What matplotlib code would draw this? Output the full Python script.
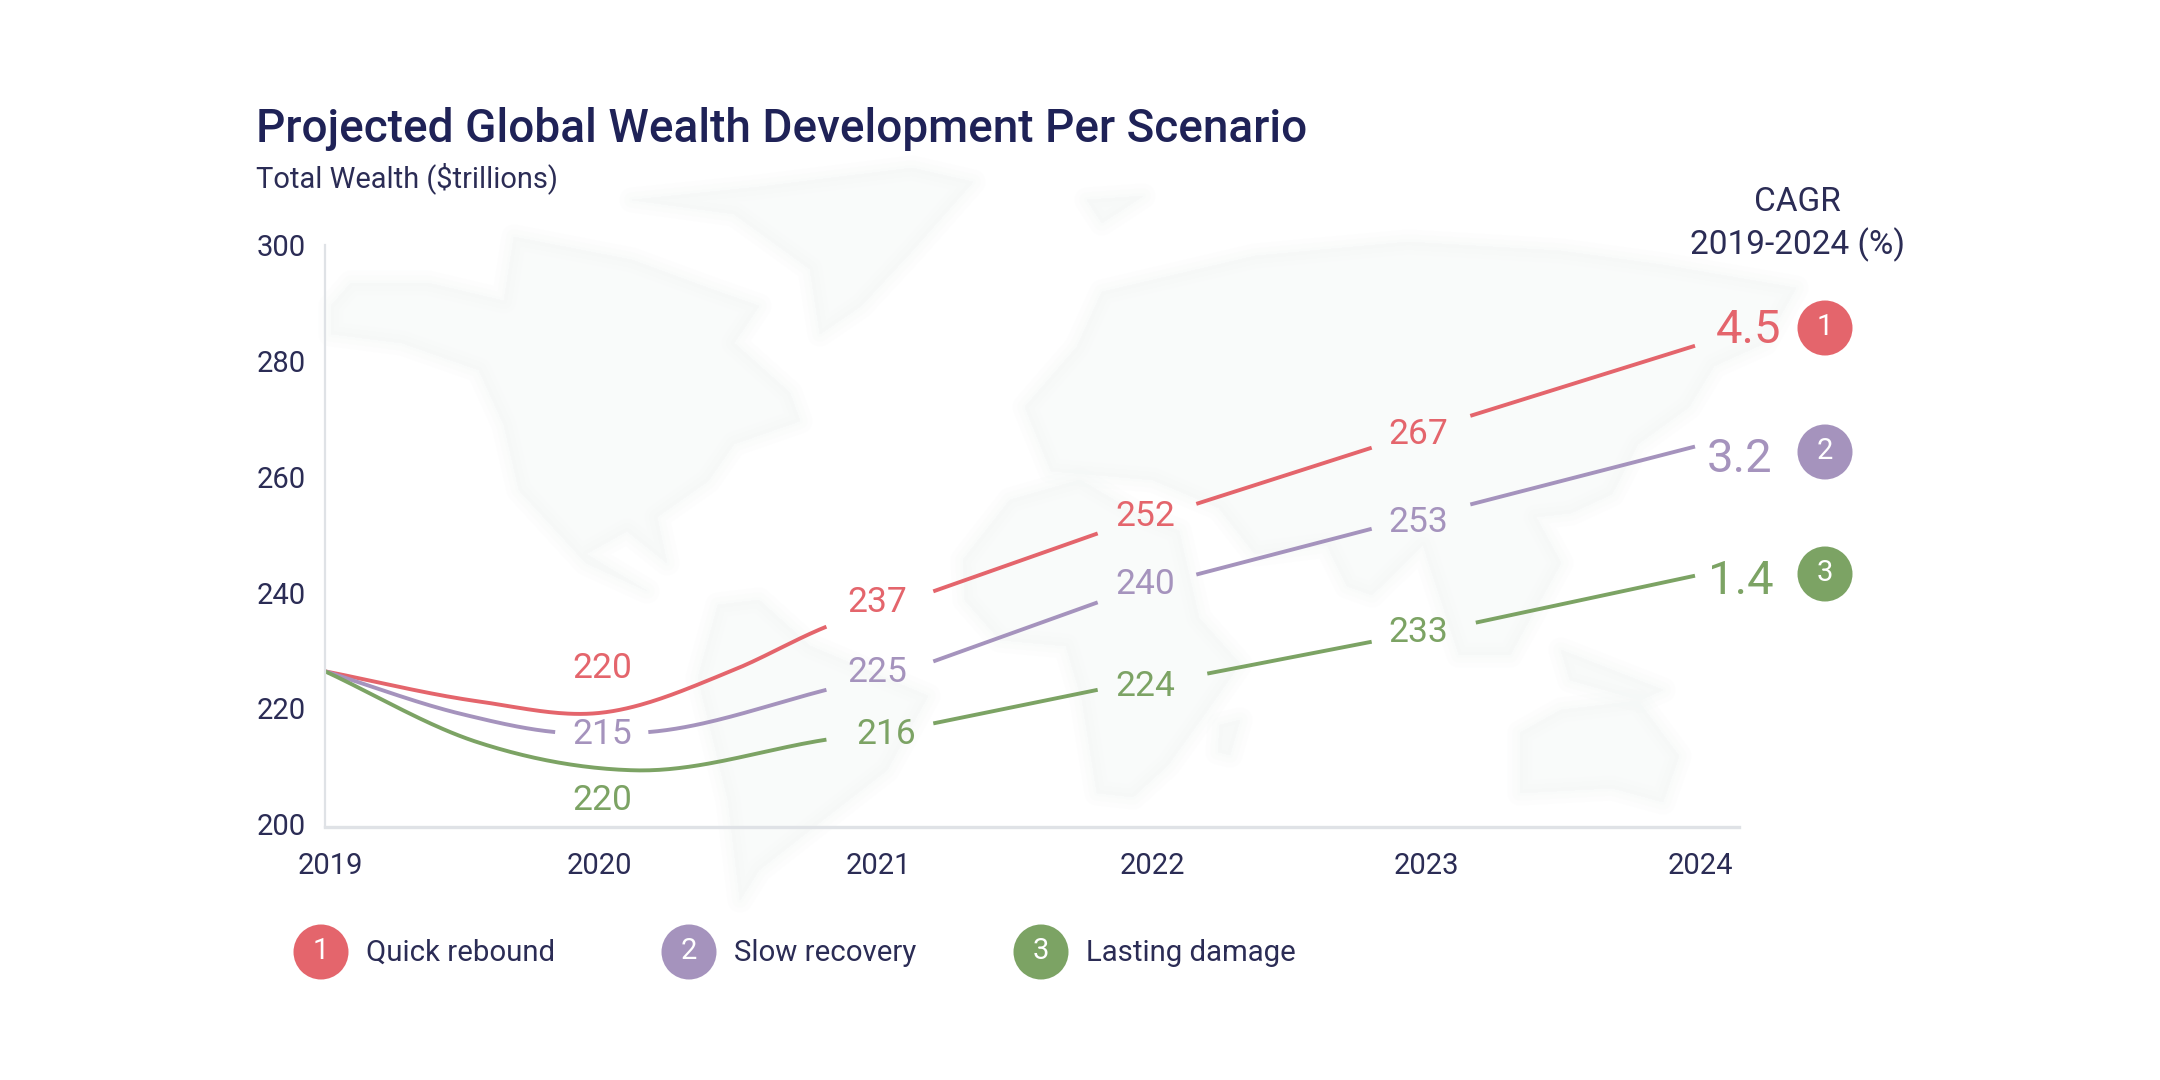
'''
projected global wealth per scenario, line chart with a faint world map behind it
'''

import numpy as np
import matplotlib.pyplot as plt
from matplotlib.patches import Circle, Polygon
from matplotlib.transforms import ScaledTranslation

plt.rcParams['font.family'] = ['Roboto', 'DejaVu Sans']

years = [2019, 2020, 2021, 2022, 2023, 2024]
y_ticks = [200, 220, 240, 260, 280, 300]

# points (x in years, y in $trillions)
red_x = [2019, 2019.56, 2020, 2020.49, 2020.83, 2021.22, 2021.82, 2022.18, 2022.82, 2023.18, 2024]
red_y = [226.4, 221.2, 219.2, 226.6, 234.1, 240.2, 250.2, 255.3, 265, 270.5, 282.6]
purple_x = [2019, 2019.5, 2019.84, 2020.18, 2020.83, 2021.22, 2021.82, 2022.18, 2022.82, 2023.18, 2024]
purple_y = [226.4, 219, 215.9, 215.9, 223.2, 228.1, 238.3, 243.1, 251, 255.2, 265.2]
green_x = [2019, 2019.56, 2020.13, 2020.83, 2021.22, 2021.82, 2022.22, 2022.82, 2023.2, 2024]
green_y = [226.4, 214.1, 209.3, 214.6, 217.4, 223.2, 226, 231.5, 234.8, 242.9]

# where each line stops for its value label
red_gaps = [(2020.83, 2021.22), (2021.82, 2022.18), (2022.82, 2023.18)]
purple_gaps = [(2019.84, 2020.18), (2020.83, 2021.22), (2021.82, 2022.18), (2022.82, 2023.18)]
green_gaps = [(2020.83, 2021.22), (2021.82, 2022.22), (2022.82, 2023.2)]

red_labels = ['220', '237', '252', '267']
purple_labels = ['215', '225', '240', '253']
green_labels = ['220', '216', '224', '233']

red_label_pos = [(602, 669), (877, 603), (1145, 516), (1418, 435)]
purple_label_pos = [(602, 734), (877, 672), (1145, 584), (1418, 523)]
green_label_pos = [(602, 800), (886, 735), (1145, 686), (1418, 633)]

scenarios = ['Quick rebound', 'Slow recovery', 'Lasting damage']
cagr = ['4.5', '3.2', '1.4']

RED = '#e4656c'
PURPLE = '#a593bd'
GREEN = '#7ca364'
NAVY = '#1f2257'
DARK = '#2b2c55'
AXIS = '#dfe2e6'
MAP = '#f5f8f7'

# rough continent outlines, figure pixels
north_america = [(331,306),(351,283),(428,283),(504,301),(514,237),(632,260),(708,288),(759,306),(734,343),(790,393),(800,421),(734,444),(708,481),(657,517),(667,563),(627,531),(586,554),(647,591),(586,563),(519,490),(504,425),(479,370),(402,343),(331,334)]
greenland = [(632,200),(759,187),(912,168),(973,182),(912,251),(861,306),(820,334),(810,269),(734,214)]
south_america = [(718,605),(759,600),(810,646),(928,696),(887,770),(810,830),(759,870),(740,900),(728,800),(698,678)]
africa = [(963,560),(1010,500),(1080,480),(1143,517),(1179,531),(1199,618),(1240,664),(1204,715),(1168,765),(1133,797),(1097,793),(1082,700),(1066,646),(1000,640),(965,600)]
eurasia = [(1077,347),(1102,292),(1255,256),(1408,242),(1561,251),(1663,265),(1796,288),(1765,343),(1714,366),(1689,407),(1638,444),(1612,494),(1571,513),(1536,517),(1561,563),(1510,655),(1459,655),(1423,545),(1372,595),(1347,586),(1327,545),(1255,554),(1219,508),(1153,480),(1051,471),(1025,407)]
australia = [(1520,733),(1561,710),(1638,701),(1679,756),(1663,802),(1612,788),(1520,793)]
islands = [(1561,650),(1663,690),(1640,700),(1570,680)]
madagascar = [(1220,725),(1240,720),(1230,755),(1218,752)]
scandinavia = [(1087,200),(1143,196),(1102,223)]
continents = [north_america, greenland, south_america, africa, eurasia, australia, islands, madagascar, scandinavia]


def smooth_line(x, y, gaps):
    # hermite curve through the dip, straight runs after 2020.83, blanked at the labels
    x = np.array(x, dtype=float)
    y = np.array(y, dtype=float)
    slopes = np.gradient(y, x)
    xs = []
    ys = []
    for i in range(len(x) - 1):
        h = x[i + 1] - x[i]
        t = np.linspace(0, 1, 40)
        if x[i] >= 2020.83:
            seg = y[i] + t * (y[i + 1] - y[i])
        else:
            seg = ((2*t**3 - 3*t**2 + 1) * y[i] + (t**3 - 2*t**2 + t) * h * slopes[i]
                   + (-2*t**3 + 3*t**2) * y[i + 1] + (t**3 - t**2) * h * slopes[i + 1])
        if any(g[0] <= x[i] and x[i + 1] <= g[1] for g in gaps):
            seg = seg * np.nan
        xs.append(x[i] + t * h)
        ys.append(seg)
    return np.concatenate(xs), np.concatenate(ys)


fig = plt.figure(figsize=(21.6, 10.8), dpi=100, facecolor='white')

# pixel canvas for the map, texts and badges
bg = fig.add_axes([0, 0, 1, 1])
bg.set_xlim(0, 2160)
bg.set_ylim(1080, 0)
bg.axis('off')
for outline in continents:
    # a few wider, see-through layers so the edges fade like the original
    for width in [18, 11, 4]:
        bg.add_patch(Polygon(outline, closed=True, facecolor=MAP, edgecolor=MAP, lw=width,
                             joinstyle='round', alpha=0.2))

ax = fig.add_axes([325/2160, 1 - 826.5/1080, (1738.5 - 325)/2160, (826.5 - 245)/1080], zorder=2)
ax.patch.set_visible(False)
ax.set_xlim(2019, 2019 + (1738.5 - 325)/274)
ax.set_ylim(199.6, 300)

for x, y, gaps, color in [(red_x, red_y, red_gaps, RED),
                          (purple_x, purple_y, purple_gaps, PURPLE),
                          (green_x, green_y, green_gaps, GREEN)]:
    xs, ys = smooth_line(x, y, gaps)
    ax.plot(xs, ys, color=color, lw=2.8, solid_capstyle='butt', clip_on=False)

ax.set_xticks(years)
ax.set_xticklabels(years)
ax.set_yticks(y_ticks)
ax.tick_params(axis='both', length=0, labelsize=21, labelcolor=DARK)
ax.tick_params(axis='x', pad=18)
ax.tick_params(axis='y', pad=14)
# the year labels sit a little right of their points, except 2020
label_shift = [4, 0, 4, 4, 4, 4]
for label, dx in zip(ax.get_xticklabels(), label_shift):
    label.set_transform(label.get_transform() + ScaledTranslation(dx/72, 0, fig.dpi_scale_trans))
for spine in ['top', 'right']:
    ax.spines[spine].set_visible(False)
ax.spines['left'].set_color(AXIS)
ax.spines['left'].set_linewidth(1.6)
ax.spines['bottom'].set_color(AXIS)
ax.spines['bottom'].set_linewidth(2.4)

bg.text(256, 129, 'Projected Global Wealth Development Per Scenario', fontsize=33.1, fontweight='medium',
        color=NAVY, ha='left', va='center')
bg.text(256, 178, 'Total Wealth ($trillions)', fontsize=20.9, color=DARK, ha='left', va='center')
bg.text(1797, 202, 'CAGR', fontsize=24, color=DARK, ha='center', va='center')
bg.text(1797, 245, '2019-2024 (%)', fontsize=24, color=DARK, ha='center', va='center')

for labels, pos, color in [(red_labels, red_label_pos, RED),
                           (purple_labels, purple_label_pos, PURPLE),
                           (green_labels, green_label_pos, GREEN)]:
    for label, (px, py) in zip(labels, pos):
        bg.text(px, py, label, fontsize=25.5, color=color, ha='center', va='center')

colors = [RED, PURPLE, GREEN]
badge_y = [328, 452, 574]
value_y = [330, 459, 581]
value_x = [1749, 1740, 1741]
legend_x = [321, 689, 1041]
for i, color in enumerate(colors):
    bg.add_patch(Circle((1825, badge_y[i]), 27.5, facecolor=color, edgecolor='none'))
    bg.text(1825, badge_y[i] - 1, str(i + 1), fontsize=21, color='white', ha='center', va='center')
    bg.text(value_x[i], value_y[i], cagr[i], fontsize=34, color=color, ha='center', va='center')

    bg.add_patch(Circle((legend_x[i], 952), 27.5, facecolor=color, edgecolor='none'))
    bg.text(legend_x[i], 951, str(i + 1), fontsize=21, color='white', ha='center', va='center')
    bg.text(legend_x[i] + 45, 953, scenarios[i], fontsize=21.2, color=DARK, ha='left', va='center')

plt.savefig('out.png', dpi=100)
